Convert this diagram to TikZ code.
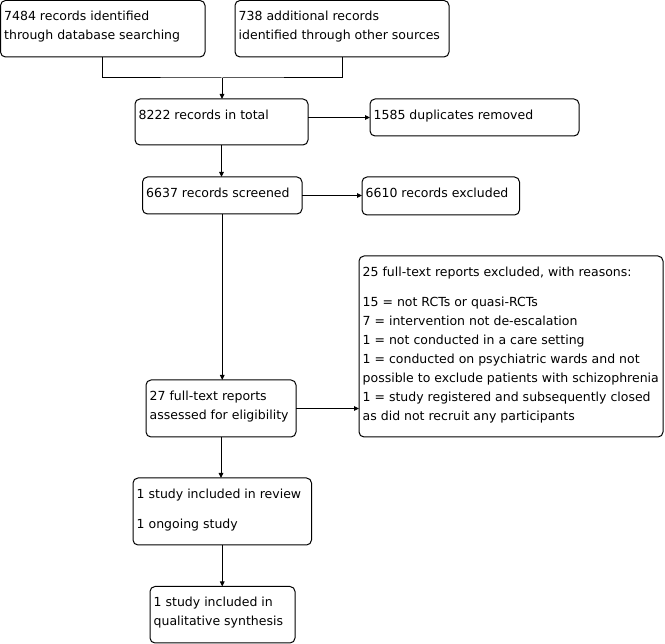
\documentclass[tikz,border=0pt]{standalone}
\usepackage{fontspec}
\setmainfont{DejaVu Sans}
\usetikzlibrary{arrows.meta, positioning}
\tikzset{
	stage/.style={rectangle, rounded corners=5pt, draw=black, line width=1pt, inner sep=0pt, outer sep=0pt, anchor=north west},
	stagetext/.style={anchor=north west, align=left, inner sep=0pt, xshift=3.5pt, yshift=-10.5pt, font=\fontsize{12.5}{19}\selectfont},
	link/.style={line width=1pt},
	flow/.style={-{Triangle[length=5pt, width=4.5pt]}, line width=1pt},
}

\begin{document}
\begin{tikzpicture}[x=1pt, y=-1pt]
	\useasboundingbox (0,0) rectangle (665,644);
	% identification
	\node[stage, minimum width=204.5pt, minimum height=56.5pt, label={[stagetext]north west:{7484 records identified\\through database searching}}] (dbase) at (0.5,0.5) {};
	\node[stage, minimum width=214pt, minimum height=56.5pt, label={[stagetext]north west:{738 additional records\\identified through other sources}}] (other) at (235,0.5) {};
	\node[stage, minimum width=173pt, minimum height=46pt, label={[stagetext]north west:{8222 records in total}}] (total) at (135,99) {};
	\node[stage, minimum width=209pt, minimum height=37pt, label={[stagetext]north west:{1585 duplicates removed}}] (dupl) at (370,99) {};
	% screening
	\node[stage, minimum width=159.5pt, minimum height=37pt, label={[stagetext]north west:{6637 records screened}}] (screen) at (142.5,177) {};
	\node[stage, minimum width=157.5pt, minimum height=38pt, label={[stagetext]north west:{6610 records excluded}}] (excl) at (362,177) {};
	% eligibility
	\node[stage, minimum width=150pt, minimum height=57pt, label={[stagetext]north west:{27 full-text reports\\assessed for eligibility}}] (elig) at (146,380) {};
	\node[stage, minimum width=304pt, minimum height=181pt, label={[stagetext]north west:{25 full-text reports excluded, with reasons:\\[11pt]15 = not RCTs or quasi-RCTs\\7 = intervention not de-escalation\\1 = not conducted in a care setting\\1 = conducted on psychiatric wards and not\\possible to exclude patients with schizophrenia\\1 = study registered and subsequently closed\\as did not recruit any participants}}] (reasons) at (359,256) {};
	% included
	\node[stage, minimum width=178.5pt, minimum height=67pt, label={[stagetext]north west:{1 study included in review\\[11pt]1 ongoing study}}] (review) at (133,478) {};
	\node[stage, minimum width=145pt, minimum height=56.5pt, label={[stagetext]north west:{1 study included in\\qualitative synthesis}}] (synth) at (150,586.5) {};

	\coordinate (merge) at (222,78);
	\draw[link] (dbase.south) |- (merge) -| (other.south);
	\draw[flow] (merge) -- (merge |- total.north);
	\draw[flow] (total.east |- dupl.west) -- (dupl.west);
	\draw[flow] (total.south) -- (total.south |- screen.north);
	\draw[flow] (screen.east) -- (screen.east -| excl.west);
	\draw[flow] (screen.south) -- (screen.south |- elig.north);
	\draw[flow] (elig.east) -- (elig.east -| reasons.west);
	\draw[flow] (elig.south) -- (elig.south |- review.north);
	\draw[flow] (review.south) -- (review.south |- synth.north);
\end{tikzpicture}
\end{document}
